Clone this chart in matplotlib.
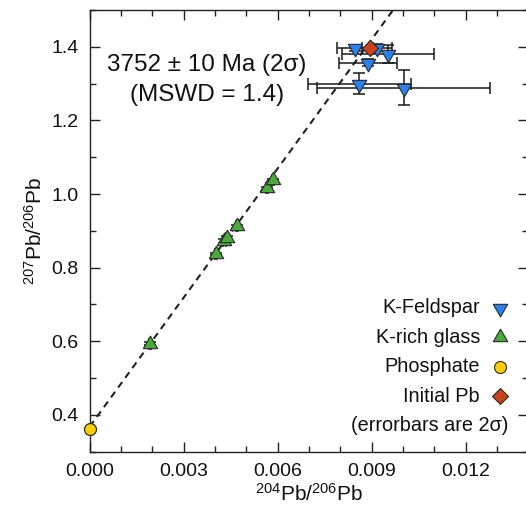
import matplotlib
matplotlib.use("Agg")
import matplotlib.pyplot as plt
from matplotlib.ticker import MultipleLocator, FormatStrFormatter
import numpy as np

plt.rcParams['font.family'] = ['Liberation Sans', 'DejaVu Sans']
plt.rcParams['mathtext.fontset'] = 'custom'
plt.rcParams['mathtext.rm'] = 'Liberation Sans'
plt.rcParams['mathtext.it'] = 'Liberation Sans:italic'

# ---- data ----
kfs_x = [0.00847, 0.00916, 0.00953, 0.00889, 0.00860, 0.01003]
kfs_y = [1.397, 1.398, 1.380, 1.357, 1.300, 1.289]
kfs_xerr = [0.00058, 0.00048, 0.00147, 0.00092, 0.00164, 0.00276]
kfs_yerr = [0.008, 0.010, 0.024, 0.010, 0.029, 0.047]

glass_x = [0.00192, 0.00402, 0.00430, 0.00438, 0.00471, 0.00567, 0.00584]
glass_y = [0.593, 0.837, 0.872, 0.880, 0.912, 1.016, 1.038]
glass_xerr = [0.00003, 0.00003, 0.00004, 0.00004, 0.00003, 0.00003, 0.00003]
glass_yerr = [0.004, 0.004, 0.005, 0.005, 0.004, 0.004, 0.004]

phos_x = [0.0]
phos_y = [0.361]

init_x = [0.00894]
init_y = [1.3965]

isochron_intercept = 0.368
isochron_slope = 116.9
isochron_xrange = [0.0, 0.0098]

xticks = [0.000, 0.003, 0.006, 0.009, 0.012]
yticks = [0.4, 0.6, 0.8, 1.0, 1.2, 1.4]

legend_labels = ['K-Feldspar', 'K-rich glass', 'Phosphate', 'Initial Pb']
age_text = '3752 ± 10 Ma (2σ)'
mswd_text = '(MSWD = 1.4)'
note_text = '(errorbars are 2σ)'

# ---- styles ----
c_kfs = '#2a80ee'
c_glass = '#4aab3c'
c_phos = '#ffcf00'
c_init = '#c8421a'
edge = '#2a2a2a'
tri_down = [(-1, 0.577), (1, 0.577), (0, -1.155), (-1, 0.577)]
tri_up = [(-1, -0.577), (1, -0.577), (0, 1.155), (-1, -0.577)]
tri_ms = 12
dia_ms = 8
circ_ms = 8.6

fig = plt.figure(figsize=(5.26, 5.12), dpi=100)
ax = fig.add_axes([0.1705, 0.1178, 0.8339, 0.8627])

xs = np.array(isochron_xrange)
ax.plot(xs, isochron_intercept + isochron_slope * xs, color='#222222',
        lw=1.5, linestyle=(0, (3.3, 2.5)), zorder=1)

eb_kw = dict(fmt='none', ecolor='#1a1a1a', elinewidth=1.1, capsize=4, capthick=1.1, zorder=2)
ax.errorbar(kfs_x, kfs_y, xerr=kfs_xerr, yerr=kfs_yerr, **eb_kw)
ax.errorbar(glass_x, glass_y, xerr=glass_xerr, yerr=glass_yerr, **eb_kw)

ax.plot(glass_x, glass_y, linestyle='none', marker=tri_up, ms=tri_ms,
        mfc=c_glass, mec=edge, mew=0.8, zorder=3)
ax.plot(kfs_x, kfs_y, linestyle='none', marker=tri_down, ms=tri_ms,
        mfc=c_kfs, mec=edge, mew=0.8, zorder=3)
ax.plot(phos_x, phos_y, linestyle='none', marker='o', ms=circ_ms,
        mfc=c_phos, mec=edge, mew=0.9, zorder=4, clip_on=False)
ax.plot(init_x, init_y, linestyle='none', marker='D', ms=dia_ms,
        mfc=c_init, mec=edge, mew=0.8, zorder=4)

ax.set_xlim(0, 0.014)
ax.set_ylim(0.3, 1.5)
ax.set_xticks(xticks)
ax.set_yticks(yticks)
ax.xaxis.set_minor_locator(MultipleLocator(0.001))
ax.yaxis.set_minor_locator(MultipleLocator(0.1))
ax.xaxis.set_major_formatter(FormatStrFormatter('%.3f'))
ax.yaxis.set_major_formatter(FormatStrFormatter('%.1f'))
ax.tick_params(which='both', direction='in', top=True, right=True, colors='#222222', width=1.0)
ax.tick_params(which='major', length=7, labelsize=14, pad=8, labelcolor='#111111')
ax.tick_params(which='minor', length=4)
for s in ax.spines.values():
    s.set_color('#222222')
    s.set_linewidth(1.0)

ax.set_xlabel(r'$^{204}\mathrm{Pb}/^{206}\mathrm{Pb}$', fontsize=15, labelpad=2, color='#111111')
ax.set_ylabel(r'$^{207}\mathrm{Pb}/^{206}\mathrm{Pb}$', fontsize=15, labelpad=4, color='#111111')

ax.text(0.2674, 0.8755, age_text, transform=ax.transAxes, ha='center', va='center', fontsize=17.5, color='#111111')
ax.text(0.2674, 0.8076, mswd_text, transform=ax.transAxes, ha='center', va='center', fontsize=17.5, color='#111111')

# legend (drawn in axes coordinates)
leg_rows = [0.3255, 0.2587, 0.1919, 0.1251]
leg_markers = [tri_down, tri_up, 'o', 'D']
leg_colors = [c_kfs, c_glass, c_phos, c_init]
leg_ms = [tri_ms, tri_ms, circ_ms, dia_ms]
for lab, yy, mk, cc, ms in zip(legend_labels, leg_rows, leg_markers, leg_colors, leg_ms):
    ax.text(0.890, yy, lab, transform=ax.transAxes, ha='right', va='center', fontsize=14.3, color='#111111')
    ax.plot([0.9355], [yy], transform=ax.transAxes, linestyle='none', marker=mk, ms=ms,
            mfc=cc, mec=edge, mew=0.8, clip_on=False)
ax.text(0.9537, 0.0583, note_text, transform=ax.transAxes, ha='right', va='center', fontsize=14.3, color='#111111')

fig.savefig('out.png', dpi=100)
